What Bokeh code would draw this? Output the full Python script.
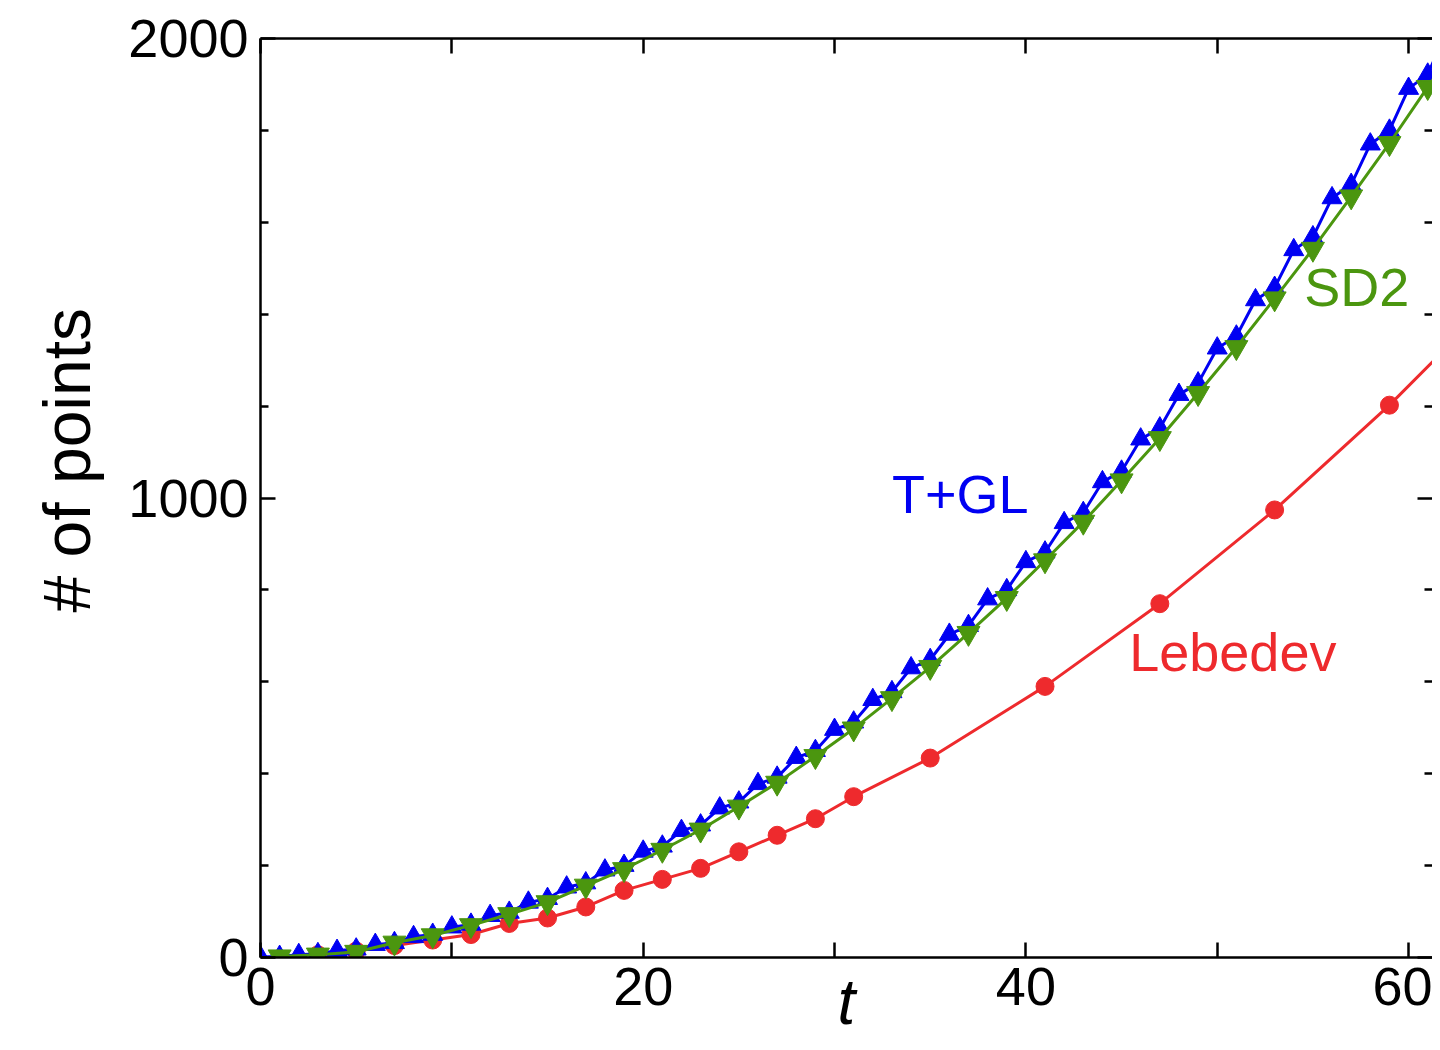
from bokeh.plotting import figure
from bokeh.models import Range1d, LinearAxis, FixedTicker, Label, Title
from bokeh.embed import file_html
from bokeh.resources import INLINE

# ---- data ----
tgl_t = [0, 1, 2, 3, 4, 5, 6, 7, 8, 9, 10, 11, 12, 13, 14, 15, 16, 17, 18, 19,
         20, 21, 22, 23, 24, 25, 26, 27, 28, 29, 30, 31, 32, 33, 34, 35, 36, 37, 38, 39,
         40, 41, 42, 43, 44, 45, 46, 47, 48, 49, 50, 51, 52, 53, 54, 55, 56, 57, 58, 59,
         60, 61, 62, 63]
tgl_n = [1, 2, 6, 8, 15, 18, 28, 32, 45, 50, 66, 72, 91, 98, 120, 128, 153, 162, 190, 200,
         231, 242, 276, 288, 325, 338, 378, 392, 435, 450, 496, 512, 561, 578, 630, 648, 703, 722, 780, 800,
         861, 882, 946, 968, 1035, 1058, 1128, 1152, 1225, 1250, 1326, 1352, 1431, 1458, 1540, 1568, 1653, 1682, 1770, 1800,
         1891, 1922, 2016, 2048]

sd2_t = [1, 3, 5, 7, 9, 11, 13, 15, 17, 19, 21, 23, 25, 27, 29, 31,
         33, 35, 37, 39, 41, 43, 45, 47, 49, 51, 53, 55, 57, 59, 61, 63]
sd2_n = [2, 6, 12, 32, 48, 70, 94, 120, 156, 192, 234, 278, 328, 380, 438, 498,
         564, 632, 706, 782, 864, 948, 1038, 1130, 1228, 1328, 1434, 1542, 1656, 1772, 1894, 2018]

leb_t = [3, 5, 7, 9, 11, 13, 15, 17, 19, 21, 23, 25, 27, 29, 31, 35, 41, 47, 53, 59, 65]
leb_n = [6, 14, 26, 38, 50, 74, 86, 110, 146, 170, 194, 230, 266, 302, 350, 434, 590, 770, 974, 1202, 1454]

x_major = [0, 20, 40, 60]
x_minor = [10, 30, 50]
y_major = [0, 1000, 2000]
y_minor = [200, 400, 600, 800, 1200, 1400, 1600, 1800]

BLUE = "#0000F2"
GREEN = "#4B960F"
RED = "#EE2A2D"
FONT = "Liberation Sans"

p = figure(width=1432, height=1042, x_range=Range1d(0, 61.25), y_range=Range1d(0, 2000),
           output_backend="svg", toolbar_location=None,
           x_axis_type=None, y_axis_type=None,
           min_border_left=260, min_border_top=38, min_border_bottom=85, min_border_right=0,
           background_fill_color="white", border_fill_color="white")
p.outline_line_color = None
p.grid.visible = False

xt = FixedTicker(ticks=x_major, minor_ticks=x_minor)
yt = FixedTicker(ticks=y_major, minor_ticks=y_minor)


def style(ax, labels=True, line=True, ticks=()):
    ax.axis_line_width = 2.5
    ax.axis_line_color = "black" if line else None
    ax.major_tick_line_width = 2.5
    ax.minor_tick_line_width = 2.5
    ax.major_tick_in = 15
    ax.major_tick_out = 0
    ax.minor_tick_out = 0
    ax.major_label_text_font = FONT
    ax.major_label_text_color = "black"
    if labels:
        ax.major_label_text_font_size = "54px"
    else:
        ax.major_label_overrides = {t: "" for t in ticks}
        ax.major_label_standoff = 0


bottom = LinearAxis(ticker=xt)
style(bottom)
bottom.minor_tick_in = 15
bottom.major_label_standoff = 10
bottom.axis_label = "t"
bottom.axis_label_text_font = FONT
bottom.axis_label_text_font_size = "64px"
bottom.axis_label_text_font_style = "italic"
bottom.axis_label_text_color = "black"
bottom.axis_label_standoff = -42
p.add_layout(bottom, "below")

top = LinearAxis(ticker=xt)
style(top, labels=False, ticks=x_major)
top.minor_tick_in = 15
p.add_layout(top, "above")

left = LinearAxis(ticker=yt)
style(left)
left.minor_tick_in = 8
left.major_label_standoff = 12
p.add_layout(left, "left")

ylab = Title(text="# of points", align="left", offset=345, vertical_align="top",
             text_font=FONT, text_font_size="66px", text_font_style="normal",
             text_color="black", standoff=40)
p.add_layout(ylab, "left")

right = LinearAxis(ticker=yt)
style(right, labels=False, line=False, ticks=y_major)
right.minor_tick_in = 8
p.add_layout(right, "right")

# series
p.line(leb_t, leb_n, line_color=RED, line_width=3)
p.scatter(leb_t, leb_n, marker="circle", size=18, fill_color=RED, line_color=RED)

p.line(tgl_t, tgl_n, line_color=BLUE, line_width=3)
p.scatter(tgl_t, tgl_n, marker="triangle", size=20, fill_color=BLUE, line_color=BLUE)

p.line(sd2_t, sd2_n, line_color=GREEN, line_width=3)
p.scatter(sd2_t, sd2_n, marker="inverted_triangle", size=23, fill_color=GREEN, line_color=GREEN)

# in-plot labels
p.add_layout(Label(x=33.0, y=1008, text="T+GL", text_color=BLUE, text_font=FONT,
                   text_font_size="54px", text_align="left", text_baseline="alphabetic"))
p.add_layout(Label(x=54.55, y=1460, text="SD2", text_color=GREEN, text_font=FONT,
                   text_font_size="54px", text_align="left", text_baseline="alphabetic"))
p.add_layout(Label(x=45.4, y=664, text="Lebedev", text_color=RED, text_font=FONT,
                   text_font_size="54px", text_align="left", text_baseline="alphabetic"))

open("out.html", "w").write(file_html(p, INLINE))
